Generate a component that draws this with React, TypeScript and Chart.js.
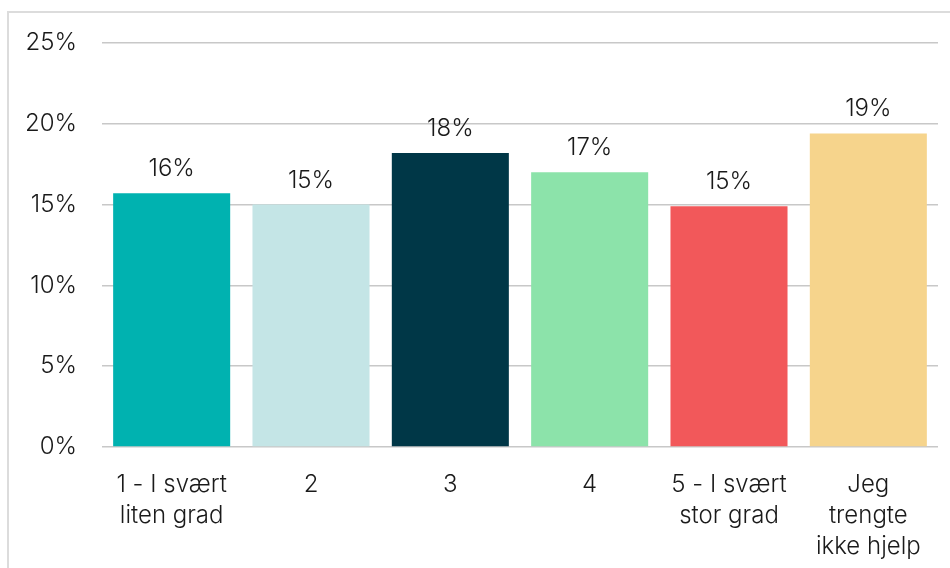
import React, { useEffect, useRef } from "react";
import { Chart, registerables } from "chart.js";

Chart.register(...registerables);

const categories: (string | string[])[] = [
  ["1 - I svært", "liten grad"],
  "2",
  "3",
  "4",
  ["5 - I svært", "stor grad"],
  ["Jeg", "trengte", "ikke hjelp"],
];
const values = [15.7, 15.0, 18.2, 17.0, 14.9, 19.4];
const valueLabels = ["16%", "15%", "18%", "17%", "15%", "19%"];
const barColors = ["#00B2B0", "#C4E5E6", "#003747", "#8CE3AA", "#F2585A", "#F6D48C"];
const yTicks = [0, 5, 10, 15, 20, 25];

const FONT = "Inter, 'DejaVu Sans', sans-serif";

const valueLabelPlugin = {
  id: "valueLabels",
  afterDatasetsDraw(chart: any) {
    const ctx = chart.ctx;
    const meta = chart.getDatasetMeta(0);
    ctx.save();
    ctx.font = `300 24px ${FONT}`;
    ctx.fillStyle = "#1a1a1a";
    ctx.textAlign = "center";
    ctx.textBaseline = "alphabetic";
    meta.data.forEach((bar: any, i: number) => {
      ctx.fillText(valueLabels[i], bar.x, bar.y - 17);
    });
    ctx.restore();
  },
};

export default function App() {
  const ref = useRef<HTMLCanvasElement>(null);
  useEffect(() => {
    if (!ref.current) return;
    const chart = new Chart(ref.current, {
      type: "bar",
      data: {
        labels: categories,
        datasets: [
          {
            data: values,
            backgroundColor: barColors,
            barPercentage: 0.84,
            categoryPercentage: 1,
          },
        ],
      },
      options: {
        animation: false,
        responsive: false,
        layout: { padding: { top: 43, right: 12, left: 27, bottom: 0 } },
        plugins: { legend: { display: false }, tooltip: { enabled: false } },
        scales: {
          x: {
            grid: { display: false, drawTicks: false },
            border: { display: false },
            afterFit: (axis: any) => {
              axis.height = 121;
            },
            ticks: {
              color: "#1a1a1a",
              font: { family: FONT, size: 24, weight: 300, lineHeight: 1.3 },
              padding: 22,
              maxRotation: 0,
              autoSkip: false,
            },
          },
          y: {
            min: 0,
            max: 25,
            afterBuildTicks: (axis: any) => {
              axis.ticks = yTicks.map((v) => ({ value: v }));
            },
            afterFit: (axis: any) => {
              axis.width = 75;
            },
            grid: { color: "#c8c8c8", lineWidth: 1.5, drawTicks: false },
            border: { display: false },
            ticks: {
              color: "#1a1a1a",
              font: { family: FONT, size: 24, weight: 300 },
              padding: 25,
              callback: (v: any) => `${v}%`,
            },
          },
        },
      },
      plugins: [valueLabelPlugin],
    });
    return () => chart.destroy();
  }, []);

  return (
    <div
      style={{
        position: "fixed",
        left: 0,
        top: 0,
        width: 950,
        height: 568,
        overflow: "hidden",
        background: "#fff",
      }}
    >
      <div
        style={{
          position: "absolute",
          left: 7,
          top: 11,
          width: 1000,
          height: 700,
          border: "2px solid #dcdcdc",
        }}
      />
      <canvas
        ref={ref}
        width={950}
        height={568}
        style={{ position: "absolute", left: 0, top: 0, width: 950, height: 568 }}
      />
    </div>
  );
}
